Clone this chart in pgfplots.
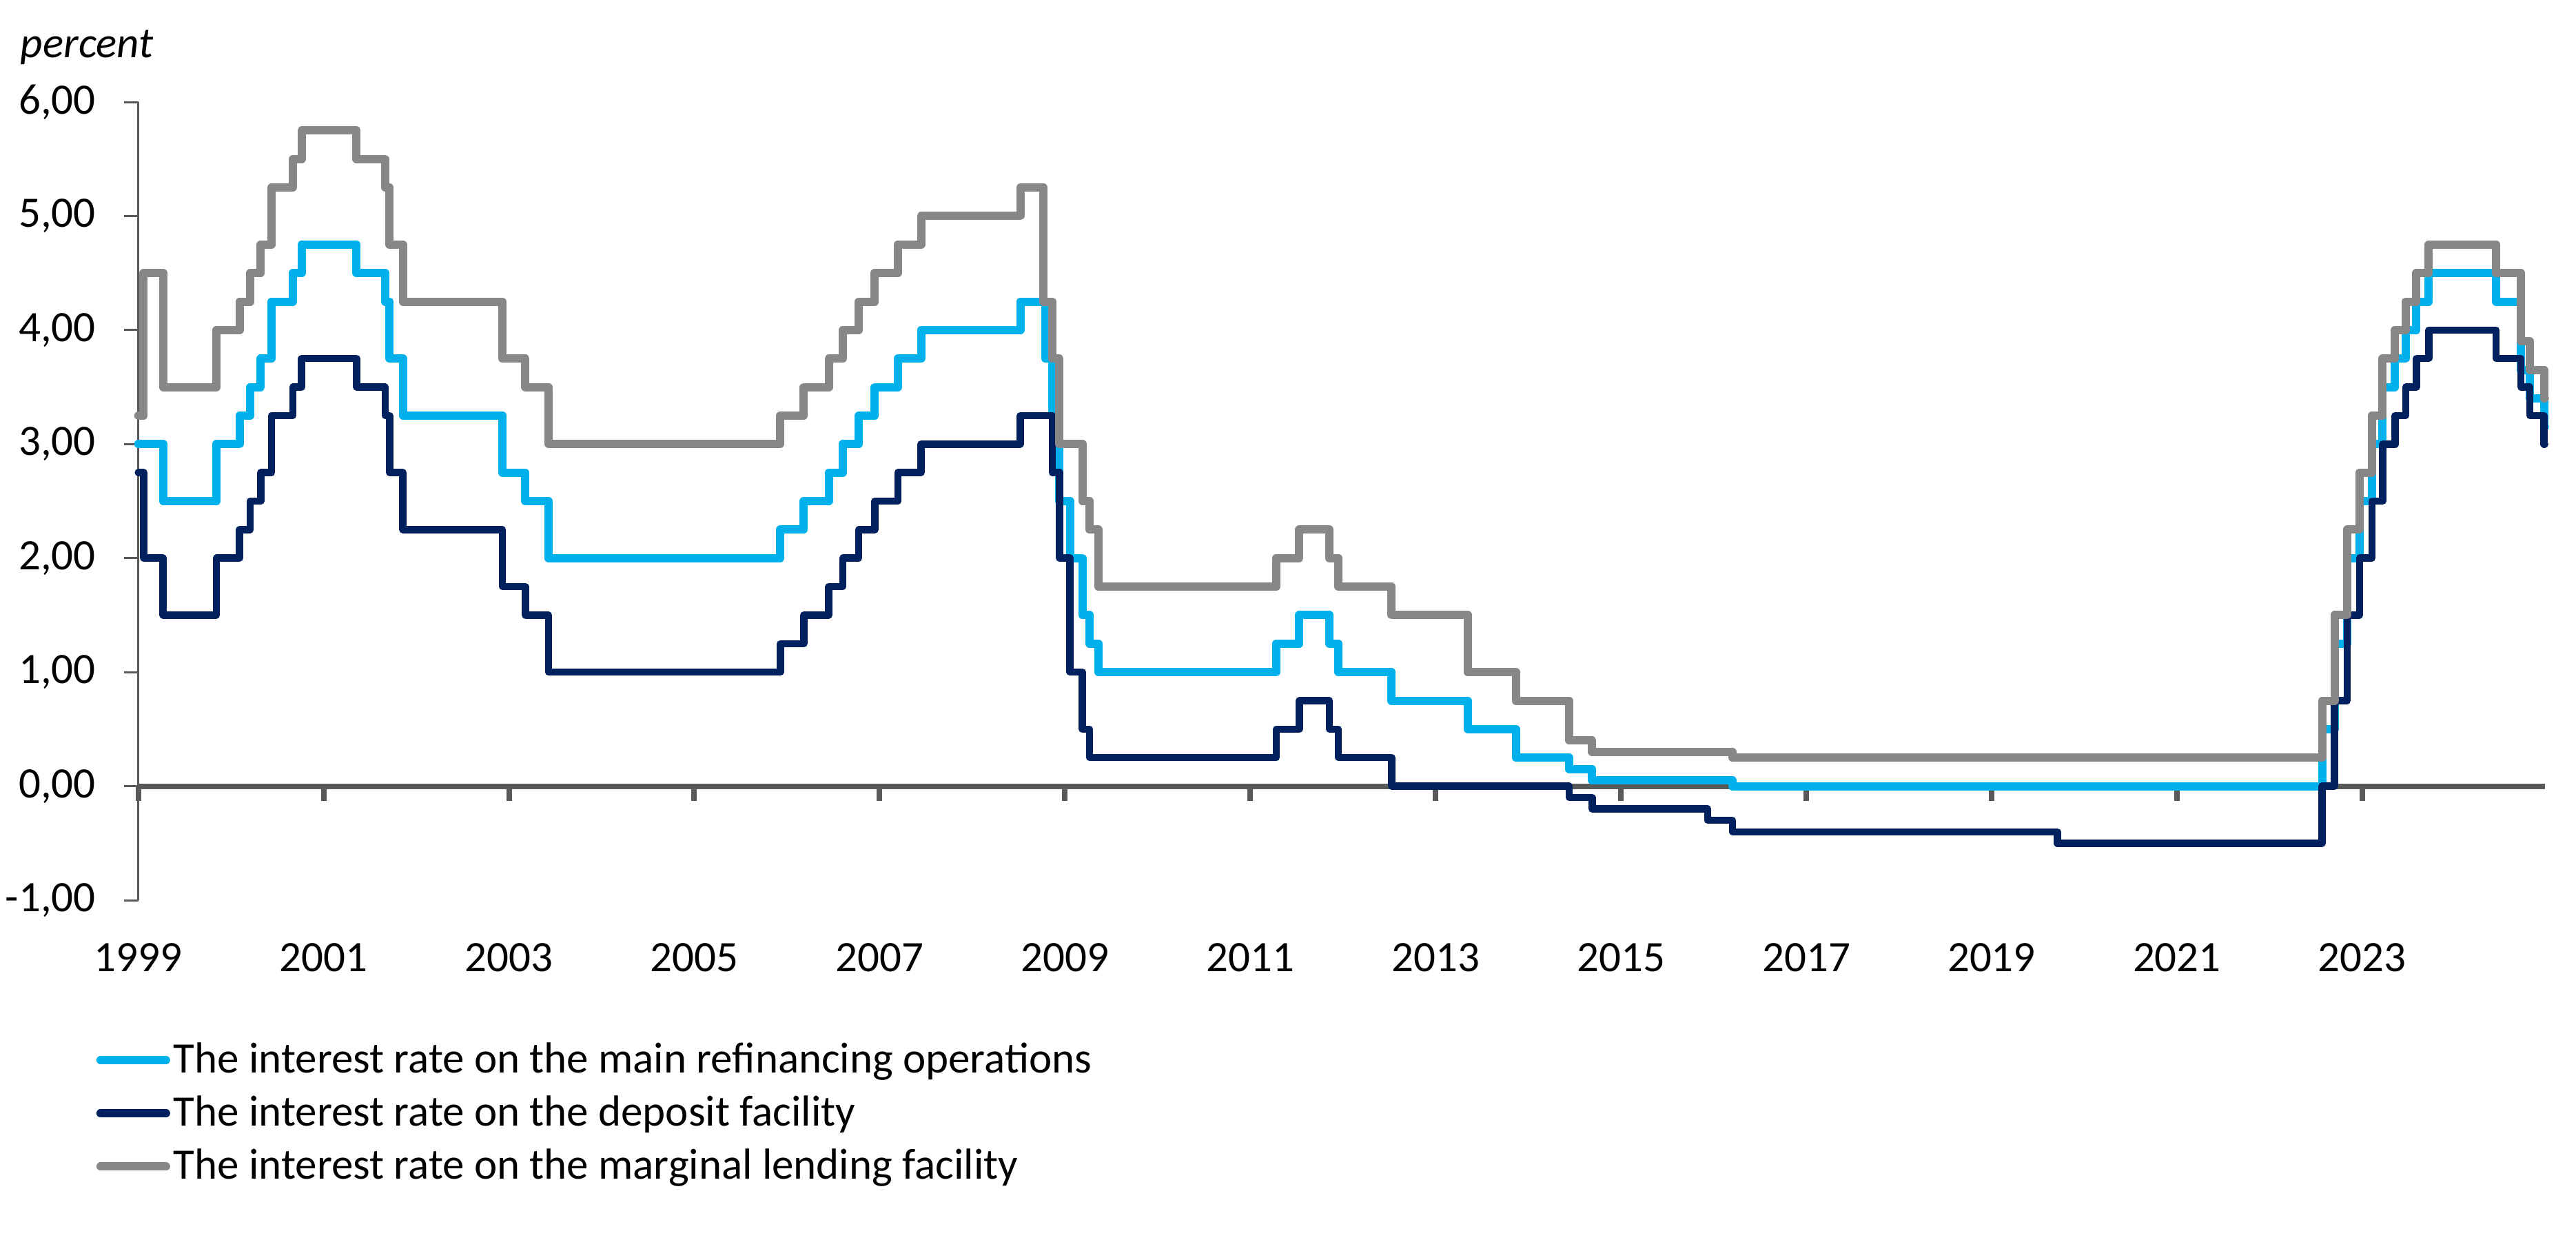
\documentclass[border=0pt]{standalone}
\usepackage{fontspec}
\setmainfont{Carlito}
\usepackage{pgfplots}
\pgfplotsset{compat=1.18}
\usepackage{pgfplotstable}
\definecolor{mroblue}{HTML}{00B1EB}
\definecolor{dfrnavy}{HTML}{00205E}
\definecolor{mlfgray}{HTML}{878787}
\definecolor{axgray}{HTML}{595959}
\newcommand{\chartfont}{\fontsize{12.6pt}{15pt}\selectfont}

\pgfplotstableread{
x y
1999.000 3.00
1999.268 2.50
1999.844 3.00
2000.093 3.25
2000.208 3.50
2000.322 3.75
2000.437 4.25
2000.667 4.50
2000.762 4.75
2001.356 4.50
2001.663 4.25
2001.712 3.75
2001.855 3.25
2002.929 2.75
2003.178 2.50
2003.427 2.00
2005.929 2.25
2006.181 2.50
2006.452 2.75
2006.603 3.00
2006.775 3.25
2006.948 3.50
2007.197 3.75
2007.447 4.00
2008.519 4.25
2008.787 3.75
2008.863 3.25
2008.940 2.50
2009.055 2.00
2009.189 1.50
2009.266 1.25
2009.362 1.00
2011.279 1.25
2011.529 1.50
2011.855 1.25
2011.951 1.00
2012.525 0.75
2013.348 0.50
2013.866 0.25
2014.441 0.15
2014.690 0.05
2016.205 0.00
2022.567 0.50
2022.701 1.25
2022.836 2.00
2022.970 2.50
2023.104 3.00
2023.219 3.50
2023.353 3.75
2023.468 4.00
2023.584 4.25
2023.718 4.50
2024.445 4.25
2024.713 3.65
2024.809 3.40
2024.962 3.15
2024.970 3.15
}\mro

\pgfplotstableread{
x y
1999.000 2.75
1999.058 2.00
1999.268 1.50
1999.844 2.00
2000.093 2.25
2000.208 2.50
2000.322 2.75
2000.437 3.25
2000.667 3.50
2000.762 3.75
2001.356 3.50
2001.663 3.25
2001.712 2.75
2001.855 2.25
2002.929 1.75
2003.178 1.50
2003.427 1.00
2005.929 1.25
2006.181 1.50
2006.452 1.75
2006.603 2.00
2006.775 2.25
2006.948 2.50
2007.197 2.75
2007.447 3.00
2008.519 3.25
2008.863 2.75
2008.940 2.00
2009.055 1.00
2009.189 0.50
2009.266 0.25
2011.279 0.50
2011.529 0.75
2011.855 0.50
2011.951 0.25
2012.525 0.00
2014.441 -0.10
2014.690 -0.20
2015.937 -0.30
2016.205 -0.40
2019.712 -0.50
2022.567 0.00
2022.701 0.75
2022.836 1.50
2022.970 2.00
2023.104 2.50
2023.219 3.00
2023.353 3.25
2023.468 3.50
2023.584 3.75
2023.718 4.00
2024.445 3.75
2024.713 3.50
2024.809 3.25
2024.962 3.00
2024.970 3.00
}\dfr

\pgfplotstableread{
x y
1999.000 3.25
1999.058 4.50
1999.268 3.50
1999.844 4.00
2000.093 4.25
2000.208 4.50
2000.322 4.75
2000.437 5.25
2000.667 5.50
2000.762 5.75
2001.356 5.50
2001.663 5.25
2001.712 4.75
2001.855 4.25
2002.929 3.75
2003.178 3.50
2003.427 3.00
2005.929 3.25
2006.181 3.50
2006.452 3.75
2006.603 4.00
2006.775 4.25
2006.948 4.50
2007.197 4.75
2007.447 5.00
2008.519 5.25
2008.770 4.25
2008.863 3.75
2008.940 3.00
2009.189 2.50
2009.266 2.25
2009.362 1.75
2011.279 2.00
2011.529 2.25
2011.855 2.00
2011.951 1.75
2012.525 1.50
2013.348 1.00
2013.866 0.75
2014.441 0.40
2014.690 0.30
2016.205 0.25
2022.567 0.75
2022.701 1.50
2022.836 2.25
2022.970 2.75
2023.104 3.25
2023.219 3.75
2023.353 4.00
2023.468 4.25
2023.584 4.50
2023.718 4.75
2024.445 4.50
2024.713 3.90
2024.809 3.65
2024.962 3.40
2024.970 3.40
}\mlf

\begin{document}
\begin{tikzpicture}
\begin{axis}[
  name=ax,
  scale only axis, width=698.4pt, height=231.6pt,
  xmin=1999, xmax=2024.97, ymin=-1, ymax=6,
  axis x line=middle, axis y line=left,
  axis line style={-},
  x axis line style={line width=1.6pt, draw=axgray},
  y axis line style={line width=0.6pt, draw=axgray},
  xtick={1999,2001,2003,2005,2007,2009,2011,2013,2015,2017,2019,2021,2023},
  xticklabels={1999,2001,2003,2005,2007,2009,2011,2013,2015,2017,2019,2021,2023},
  ytick={-1,0,1,2,3,4,5,6},
  yticklabels={{-1,00},{0,00},{1,00},{2,00},{3,00},{4,00},{5,00},{6,00}},
  tick align=outside,
  major tick length=4.2pt,
  x tick style={line width=1.6pt, draw=axgray},
  y tick style={line width=0.6pt, draw=axgray},
  hide obscured x ticks=false, hide obscured y ticks=false,
  tick label style={font=\chartfont, text=black},
  xticklabel style={inner sep=0pt, anchor=north, yshift=-41.2pt},
  yticklabel style={inner sep=0pt, anchor=east, xshift=-8.0pt},
  clip=false,
  legend cell align=left,
  legend style={draw=none, fill=none, inner sep=0pt,
    at={(axis description cs:-0.0177,-0.173)}, anchor=north west,
    font=\chartfont,
    nodes={inner sep=1pt}, row sep=3.2pt},
  legend image code/.code={\draw[#1, line width=2.4pt, line cap=round] (0pt,0pt) -- (19pt,0pt);},
  every axis plot/.append style={line join=round, line cap=round},
]
\addplot[const plot, color=mroblue, line width=2.4pt] table[x=x,y=y] {\mro};
\addlegendentry{The interest rate on the main refinancing operations}
\addplot[const plot, color=dfrnavy, line width=2.1pt] table[x=x,y=y] {\dfr};
\addlegendentry{The interest rate on the deposit facility}
\addplot[const plot, color=mlfgray, line width=2.4pt] table[x=x,y=y] {\mlf};
\addlegendentry{The interest rate on the marginal lending facility}
\node[anchor=base west, font=\chartfont\itshape, inner sep=0pt] at (axis description cs:-0.0492,1.0561) {percent};
\end{axis}
\path ([xshift=-40.14pt,yshift=-98.4pt]ax.south west) rectangle ([xshift=9.06pt,yshift=29.6pt]ax.north east);
\end{tikzpicture}
\end{document}
